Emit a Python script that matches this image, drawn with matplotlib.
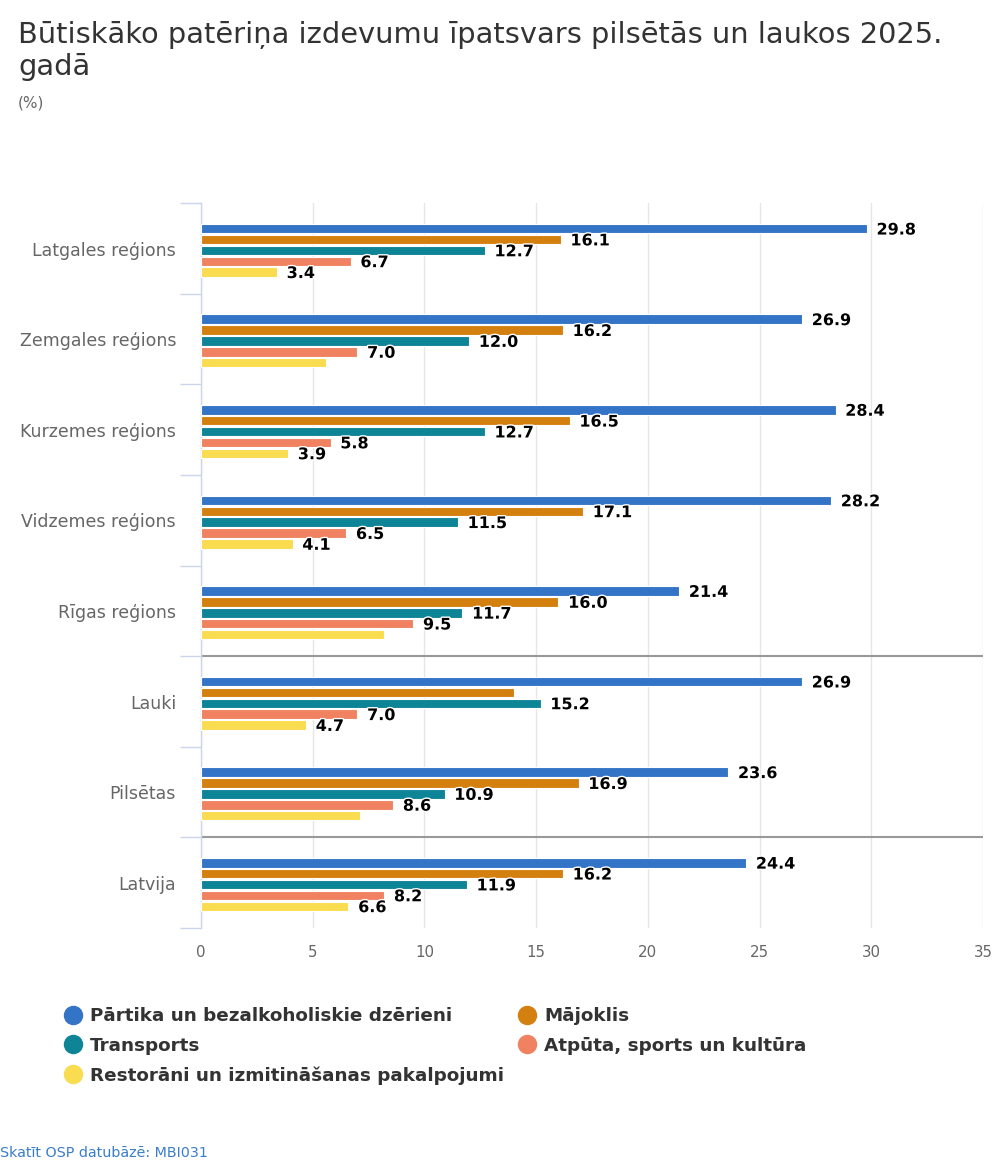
import matplotlib.pyplot as plt
import matplotlib.patheffects as pe
from matplotlib.lines import Line2D
import numpy as np

plt.rcParams['font.family'] = ['DejaVu Sans']

# dati
regions = ['Latgales reģions', 'Zemgales reģions', 'Kurzemes reģions', 'Vidzemes reģions',
           'Rīgas reģions', 'Lauki', 'Pilsētas', 'Latvija']
series_names = ['Pārtika un bezalkoholiskie dzērieni', 'Mājoklis', 'Transports',
                'Atpūta, sports un kultūra', 'Restorāni un izmitināšanas pakalpojumi']
partika = [29.8, 26.9, 28.4, 28.2, 21.4, 26.9, 23.6, 24.4]
majoklis = [16.1, 16.2, 16.5, 17.1, 16.0, 14.0, 16.9, 16.2]
transports = [12.7, 12.0, 12.7, 11.5, 11.7, 15.2, 10.9, 11.9]
atputa = [6.7, 7.0, 5.8, 6.5, 9.5, 7.0, 8.6, 8.2]
restorani = [3.4, 5.6, 3.9, 4.1, 8.2, 4.7, 7.1, 6.6]
# etiķetes, kuras oriģinālā nav redzamas (reģions, sērija)
hidden = [(1, 4), (4, 4), (5, 1), (6, 4)]
xticks = [0, 5, 10, 15, 20, 25, 30, 35]

colors = ['#3474c6', '#d4800f', '#0e8597', '#f08262', '#f9dc4f']
values = [partika, majoklis, transports, atputa, restorani]

fig = plt.figure(figsize=(10, 11.67), dpi=100)
ax = fig.add_axes([0.201, 0.2048, 0.782, 0.621])

y = np.arange(len(regions))
pitch = 0.12
for j, (vals, col) in enumerate(zip(values, colors)):
    pos = y + (j - 2) * pitch + 0.02
    ax.barh(pos, vals, height=0.105, color=col, edgecolor='white', linewidth=0.8, zorder=3)
    for i, v in enumerate(vals):
        if (i, j) in hidden:
            continue
        ax.annotate(f'{v:.1f}', (v, pos[i]), xytext=(7, -1), textcoords='offset points',
                    va='center', ha='left', fontsize=11.5, fontweight='bold', color='black',
                    zorder=4, path_effects=[pe.withStroke(linewidth=2, foreground='white')])

ax.set_xlim(0, 35)
ax.set_ylim(len(regions) - 0.5, -0.5)
ax.set_xticks(xticks)
ax.set_xticklabels([str(t) for t in xticks])
ax.tick_params(axis='x', length=0, pad=12, labelsize=10.8, labelcolor='#666666')
ax.set_yticks(y)
ax.set_yticklabels(regions)
ax.tick_params(axis='y', length=0, pad=18, labelsize=12.5, labelcolor='#666666')
# kategoriju robežu ērces
ax.set_yticks(np.arange(-0.5, len(regions)), minor=True)
ax.tick_params(axis='y', which='minor', length=15, color='#ccd6eb', width=1)
ax.grid(axis='x', color='#e6e6e6', linewidth=1, zorder=0)
for s in ['top', 'right', 'bottom']:
    ax.spines[s].set_visible(False)
ax.spines['left'].set_color('#ccd6eb')
ax.spines['left'].set_linewidth(1)
# atdalošās līnijas
for b in [4.5, 6.5]:
    ax.axhline(b, color='#999999', linewidth=1.5, zorder=2)

fig.text(0.018, 0.982, 'Būtiskāko patēriņa izdevumu īpatsvars pilsētās un laukos 2025.\ngadā',
         fontsize=20.8, color='#333333', va='top', ha='left', linespacing=1.2)
fig.text(0.018, 0.918, '(%)', fontsize=11, color='#666666', va='top', ha='left')

order = [0, 2, 4, 1, 3]
handles = [Line2D([], [], marker='o', linestyle='none', markersize=13,
                  markerfacecolor=colors[k], markeredgecolor=colors[k]) for k in order]
fig.legend(handles, [series_names[k] for k in order], ncol=2, loc='upper left',
           bbox_to_anchor=(0.045, 0.151), frameon=False, handletextpad=0.35,
           columnspacing=0.65, labelspacing=0.62, handlelength=1.2,
           prop={'size': 13.2, 'weight': 'bold'}, labelcolor='#333333')

fig.text(0.0, 0.006, 'Skatīt OSP datubāzē: MBI031', fontsize=10.3, color='#3a7dc9',
         va='bottom', ha='left')

fig.savefig('out.png', dpi=100)
